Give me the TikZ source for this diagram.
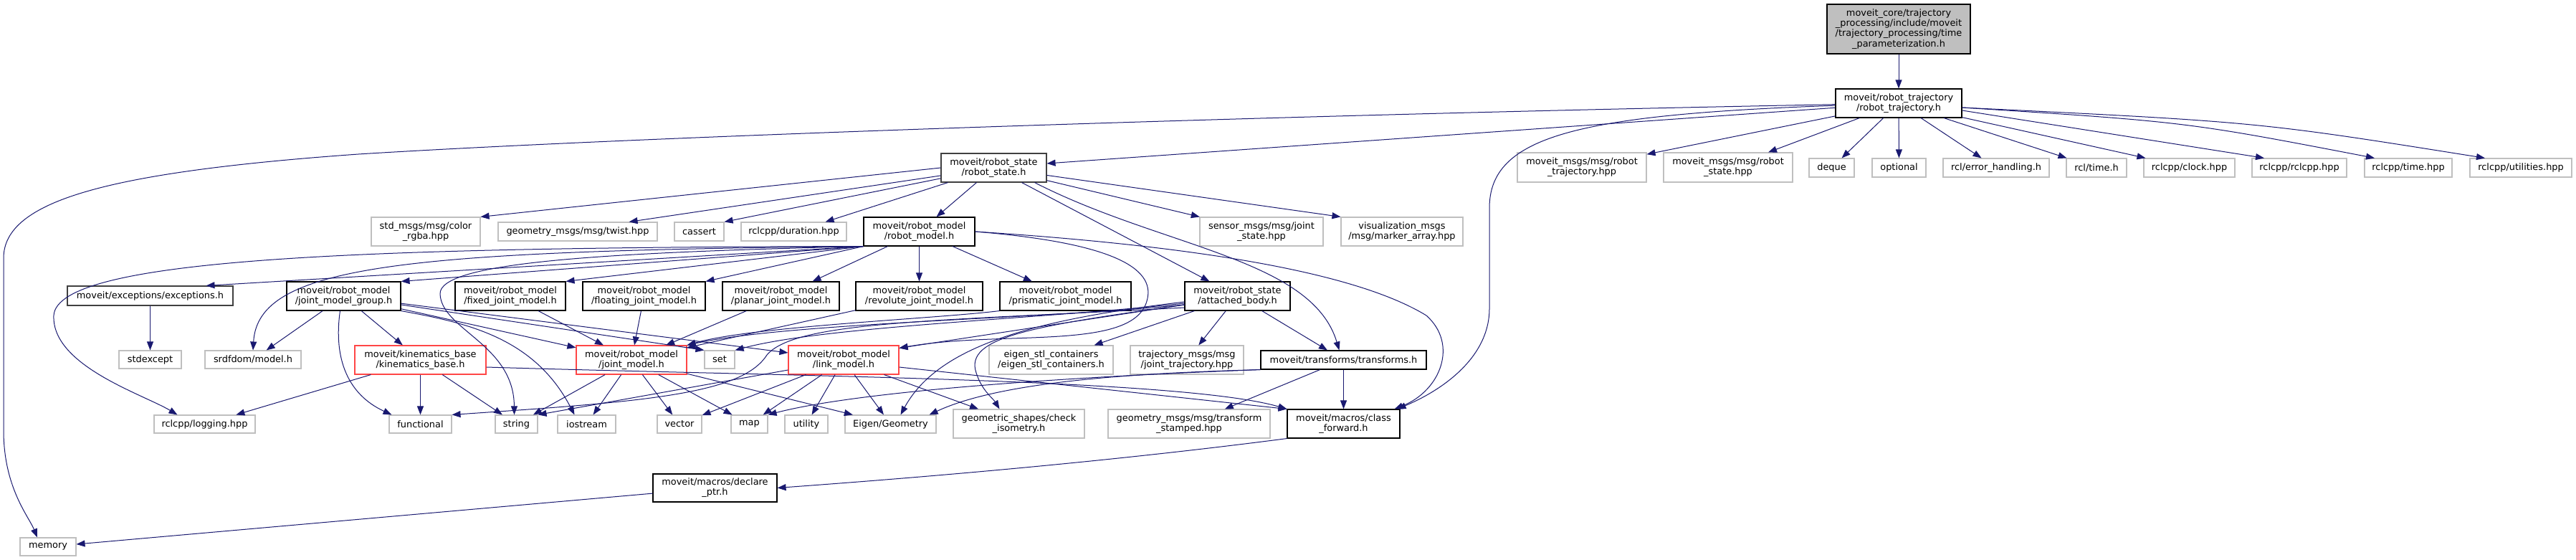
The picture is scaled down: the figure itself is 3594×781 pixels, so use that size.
\documentclass[tikz,border=0pt]{standalone}
\usepackage{fontspec}
\setmainfont{DejaVu Sans}
\usepackage{xcolor}
\usepackage{tikz}
\usetikzlibrary{arrows.meta}
\definecolor{depblue}{RGB}{25,25,112}
\definecolor{extgray}{RGB}{191,191,191}
\definecolor{cutred}{RGB}{255,70,70}
\definecolor{rootgray}{RGB}{191,191,191}
\definecolor{darkedge}{RGB}{64,64,64}

\begin{document}
\begin{tikzpicture}[
    x=1pt, y=-1pt,
    file/.style={draw, line width=1.1pt, align=center, inner sep=0pt, fill=white, font=\fontsize{12.9}{14.2}\selectfont},
    doc/.style={file, draw=black},
    docgray/.style={file, draw=darkedge},
    ext/.style={file, draw=extgray},
    cut/.style={file, draw=cutred},
    sz/.style 2 args={minimum width=#1pt, minimum height=#2pt},
    dep/.style={-{Triangle[length=12pt, width=9pt]}, line width=1pt, draw=depblue, fill=none}
]
\fill[white] (0,0) rectangle (3594,781);
\useasboundingbox (0,0) rectangle (3594,781);

% top rows
\node[doc, fill=rootgray, sz={200}{69}] (root) at (2649,40.5) {moveit\_core/trajectory\\\_processing/include/moveit\\/trajectory\_processing/time\\\_parameterization.h};
\node[doc, sz={176}{40}] (rt) at (2649,144) {moveit/robot\_trajectory\\/robot\_trajectory.h};
\node[ext, sz={180}{41}] (mmtraj) at (2207,233.5) {moveit\_msgs/msg/robot\\\_trajectory.hpp};
\node[ext, sz={180}{41}] (mmstate) at (2411,233.5) {moveit\_msgs/msg/robot\\\_state.hpp};
\node[ext, sz={63}{26}] (deque) at (2555.5,234) {deque};
\node[ext, sz={75}{26}] (optional) at (2649.5,234) {optional};
\node[ext, sz={148}{26}] (rclerr) at (2785,234) {rcl/error\_handling.h};
\node[ext, sz={84}{26}] (rcltime) at (2925,234) {rcl/time.h};
\node[ext, sz={127}{26}] (rclclock) at (3054.5,234) {rclcpp/clock.hpp};
\node[ext, sz={132}{26}] (rclcpp) at (3208,234) {rclcpp/rclcpp.hpp};
\node[ext, sz={122}{26}] (rcltimehpp) at (3360,234) {rclcpp/time.hpp};
\node[ext, sz={142}{26}] (rclutil) at (3517,234) {rclcpp/utilities.hpp};
\node[docgray, sz={147}{40}] (rstate) at (1386.5,234) {moveit/robot\_state\\/robot\_state.h};

% robot_state includes
\node[ext, sz={152}{40}] (colorrgba) at (594,323) {std\_msgs/msg/color\\\_rgba.hpp};
\node[ext, sz={222}{26}] (twist) at (806,323) {geometry\_msgs/msg/twist.hpp};
\node[ext, sz={69}{26}] (cassert) at (975.5,323) {cassert};
\node[ext, sz={147}{26}] (duration) at (1107.5,323) {rclcpp/duration.hpp};
\node[doc, sz={155}{40}] (rmodel) at (1282.5,323) {moveit/robot\_model\\/robot\_model.h};
\node[ext, sz={172}{40}] (jointstate) at (1760,323) {sensor\_msgs/msg/joint\\\_state.hpp};
\node[ext, sz={170}{40}] (markers) at (1956,323) {visualization\_msgs\\/msg/marker\_array.hpp};

% robot_model includes
\node[docgray, sz={231}{27}] (exceptions) at (209.5,412.5) {moveit/exceptions/exceptions.h};
\node[doc, sz={159}{40}] (jmg) at (479.5,413) {moveit/robot\_model\\/joint\_model\_group.h};
\node[doc, sz={154}{40}] (fixedjm) at (712,413) {moveit/robot\_model\\/fixed\_joint\_model.h};
\node[doc, sz={171}{40}] (floatjm) at (898.5,413) {moveit/robot\_model\\/floating\_joint\_model.h};
\node[doc, sz={163}{40}] (planarjm) at (1089.5,413) {moveit/robot\_model\\/planar\_joint\_model.h};
\node[doc, sz={177}{40}] (revjm) at (1282.5,413) {moveit/robot\_model\\/revolute\_joint\_model.h};
\node[doc, sz={183}{40}] (prisjm) at (1486.5,413) {moveit/robot\_model\\/prismatic\_joint\_model.h};
\node[doc, sz={147}{40}] (attached) at (1726.5,413) {moveit/robot\_state\\/attached\_body.h};

% middle row
\node[ext, sz={87}{25}] (stdexcept) at (209.5,501.5) {stdexcept};
\node[ext, sz={134}{25}] (srdf) at (353,501.5) {srdfdom/model.h};
\node[cut, sz={183}{40}] (kinbase) at (586.5,502) {moveit/kinematics\_base\\/kinematics\_base.h};
\node[cut, sz={154}{40}] (jm) at (881,502) {moveit/robot\_model\\/joint\_model.h};
\node[ext, sz={42}{25}] (stdset) at (1004,501.5) {set};
\node[cut, sz={154}{40}] (link) at (1177,502) {moveit/robot\_model\\/link\_model.h};
\node[ext, sz={173}{40}] (eigenstl) at (1466.5,502) {eigen\_stl\_containers\\/eigen\_stl\_containers.h};
\node[ext, sz={158}{40}] (jointtraj) at (1656,502) {trajectory\_msgs/msg\\/joint\_trajectory.hpp};
\node[doc, sz={231}{26}] (transforms) at (1874.5,502) {moveit/transforms/transforms.h};

% bottom rows
\node[ext, sz={141}{25}] (logging) at (285.5,591.5) {rclcpp/logging.hpp};
\node[ext, sz={87}{25}] (functional) at (586.5,591.5) {functional};
\node[ext, sz={59}{25}] (stdstring) at (720.5,591.5) {string};
\node[ext, sz={81}{25}] (iostream) at (818.5,591.5) {iostream};
\node[ext, sz={62}{25}] (vector) at (948,591.5) {vector};
\node[ext, sz={51}{25}] (map) at (1045.5,591.5) {map};
\node[ext, sz={60}{25}] (utility) at (1125,591.5) {utility};
\node[ext, sz={127}{25}] (eigengeo) at (1242.5,591.5) {Eigen/Geometry};
\node[ext, sz={183}{40}] (isometry) at (1421.5,591) {geometric\_shapes/check\\\_isometry.h};
\node[ext, sz={226}{40}] (tfstamped) at (1659,591) {geometry\_msgs/msg/transform\\\_stamped.hpp};
\node[doc, sz={157}{40}] (classfwd) at (1874.5,591) {moveit/macros/class\\\_forward.h};
\node[doc, sz={173}{39}] (declptr) at (997.5,680.5) {moveit/macros/declare\\\_ptr.h};
\node[ext, sz={78}{25}] (memory) at (67,762.5) {memory};

% robot_trajectory
\draw[dep] (root) -- (rt);
\draw[dep] (rt) -- ([yshift=6pt]rstate.east);
\draw[dep] (rt) .. controls (1800,160) and (900,190) .. (500,215) .. controls (150,240) and (5,280) .. (5,360) -- (5,600) .. controls (5,680) and (40,720) .. ([xshift=-15pt]memory.north);
\draw[dep] (rt) .. controls (2200,160) and (2078,190) .. (2078,290) -- (2078,430) .. controls (2078,500) and (2010,545) .. ([xshift=-4pt]classfwd.north east);
\draw[dep] (rt) -- (mmtraj);
\draw[dep] (rt) -- (mmstate);
\draw[dep] (rt) -- (deque);
\draw[dep] (rt) -- (optional);
\draw[dep] (rt) -- (rclerr);
\draw[dep] (rt) -- (rcltime);
\draw[dep] (rt) -- (rclclock);
\draw[dep] ([yshift=-10pt]rt.east) -- ([xshift=-49pt]rclcpp.north);
\draw[dep] ([yshift=-6pt]rt.east) .. controls (3050,170) .. ([xshift=-47pt]rcltimehpp.north);
\draw[dep] ([yshift=-6pt]rt.east) .. controls (3150,170) .. ([xshift=-50pt]rclutil.north);

% robot_state
\draw[dep] (rstate.west) -- (colorrgba.north east);
\draw[dep] (rstate) -- ([xshift=-40pt]twist.north east);
\draw[dep] (rstate) -- (cassert.north east);
\draw[dep] (rstate) -- ([xshift=-30pt]duration.north east);
\draw[dep] (rstate) -- (rmodel);
\draw[dep] (rstate) -- (attached);
\draw[dep] ([xshift=57pt]rstate.south) .. controls (1620,345) and (1830,360) .. ([xshift=-6pt]transforms.north);
\draw[dep] (rstate) -- (jointstate);
\draw[dep] (rstate) -- (markers.north west);

% robot_model
\draw[dep] (rmodel.south west) -- ([xshift=78pt]exceptions.north);
\draw[dep] (rmodel.south west) -- (jmg.north east);
\draw[dep] (rmodel.south west) -- (fixedjm.north east);
\draw[dep] (rmodel.south west) -- (floatjm.north east);
\draw[dep] (rmodel) -- (planarjm);
\draw[dep] (rmodel) -- (revjm);
\draw[dep] (rmodel) -- (prisjm);
\draw[dep] (rmodel.south west) .. controls (560,350) and (360,370) .. (srdf.north);
\draw[dep] (rmodel.south west) .. controls (500,345) and (80,360) .. (75,440) .. controls (72,510) and (200,550) .. ([xshift=-38pt]logging.north);
\draw[dep] (rmodel.south west) .. controls (850,352) and (612,365) .. (614,410) .. controls (616,460) and (717,480) .. ([xshift=-3pt]stdstring.north);
\draw[dep] (rmodel.east) .. controls (1570,340) and (1612,380) .. (1600,420) .. controls (1580,490) and (1400,460) .. ([yshift=-4pt]link.north east);
\draw[dep] (rmodel.east) .. controls (1700,345) and (1900,385) .. (1990,440) .. controls (2035,480) and (2010,545) .. ([xshift=-8pt]classfwd.north east);

\draw[dep] (exceptions) -- (stdexcept);

% joint_model_group
\draw[dep] (jmg) -- (srdf);
\draw[dep] (jmg) -- (kinbase);
\draw[dep] ([xshift=-5pt]jmg.south) .. controls (465,500) and (485,550) .. ([xshift=-40pt]functional.north);
\draw[dep] (jmg) -- (jm);
\draw[dep] (jmg) -- (stdset.north west);
\draw[dep] (jmg) -- ([yshift=10pt]link.west);
\draw[dep] (jmg.south east) .. controls (650,450) and (745,470) .. ([xshift=-17pt]iostream.north);

% kinematics_base
\draw[dep] (kinbase) -- (logging);
\draw[dep] (kinbase) -- (functional);
\draw[dep] (kinbase) -- (stdstring);
\draw[dep] ([yshift=-10pt]kinbase.east) .. controls (1100,525) and (1650,528) .. (classfwd.north west);

% joint types
\draw[dep] (fixedjm) -- (jm);
\draw[dep] (floatjm) -- (jm);
\draw[dep] (planarjm) -- (jm);
\draw[dep] (revjm) -- (jm);
\draw[dep] (prisjm.south west) .. controls (1300,445) and (1050,455) .. (jm.north east);

% joint_model
\draw[dep] (jm) -- (stdstring);
\draw[dep] (jm) -- (iostream);
\draw[dep] (jm) -- (vector);
\draw[dep] (jm) -- (map);
\draw[dep] (jm) -- (eigengeo);

% link_model
\draw[dep] (link) -- (vector);
\draw[dep] (link) -- (map);
\draw[dep] (link) -- (utility);
\draw[dep] (link) -- (eigengeo);
\draw[dep] (link) -- (isometry);
\draw[dep] ([yshift=-14pt]link.west) -- (stdstring.north east);
\draw[dep] ([yshift=-10pt]link.east) -- (classfwd.north west);

% attached_body
\draw[dep] ([yshift=-12pt]attached.west) .. controls (1450,445) and (1100,450) .. (jm.north east);
\draw[dep] ([yshift=-10pt]attached.west) .. controls (1450,445) and (1150,455) .. (stdset.north east);
\draw[dep] ([yshift=-12pt]attached.west) -- ([yshift=-4pt]link.north east);
\draw[dep] ([yshift=-16pt]attached.west) .. controls (1300,448) and (1110,448) .. (1070,495) .. controls (1035,550) and (900,560) .. (functional.north east);
\draw[dep] ([yshift=-8pt]attached.west) .. controls (1450,445) and (1310,480) .. ([xshift=14pt]eigengeo.north);
\draw[dep] ([yshift=-12pt]attached.west) .. controls (1440,455) and (1345,470) .. (1362,520) .. controls (1370,545) and (1385,555) .. ([xshift=-27pt]isometry.north);
\draw[dep] (attached) -- (eigenstl);
\draw[dep] (attached) -- (jointtraj);
\draw[dep] (attached) -- (transforms);

% transforms
\draw[dep] (transforms.south west) .. controls (1500,525) and (1200,545) .. (map.north east);
\draw[dep] (transforms.south west) .. controls (1600,520) and (1400,530) .. ([xshift=-10pt]eigengeo.north east);
\draw[dep] (transforms) -- (tfstamped);
\draw[dep] (transforms) -- (classfwd);

% macros
\draw[dep] (classfwd.south west) .. controls (1500,650) and (1200,672) .. (declptr.east);
\draw[dep] (declptr) -- (memory);
\end{tikzpicture}
\end{document}
